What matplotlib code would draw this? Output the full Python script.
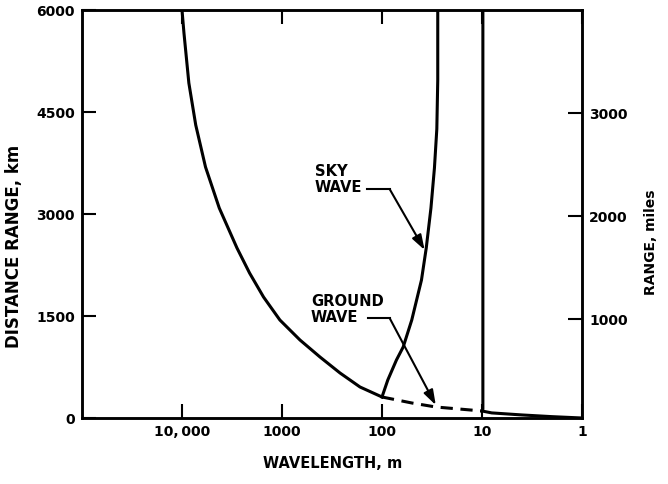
import matplotlib.pyplot as plt
from matplotlib.ticker import NullLocator

plt.rcParams['font.family'] = ['DejaVu Sans']
plt.rcParams['font.weight'] = 'bold'

# ground wave, solid part (wavelength m, range km)
gw_wl = [10000, 9560, 8540, 7290, 5820, 4240, 2820, 2110, 1530, 1050, 661, 417, 263, 166, 100]
gw_km = [6000, 5662, 4926, 4309, 3691, 3088, 2500, 2132, 1779, 1441, 1147, 897, 662, 456, 309]
# ground wave, dashed part
gd_wl = [100, 50, 29, 10]
gd_km = [309, 220, 162, 103]
# ground wave tail beyond 10 m
gt_wl = [10, 8, 4, 2, 1]
gt_km = [103, 75, 45, 20, 0]
# sky wave
sw_wl = [100, 87.5, 71.7, 61.4, 50.4, 40.3, 36.1, 32.4, 29.9, 28.3, 27.7, 27.7]
sw_km = [309, 559, 853, 1044, 1441, 2029, 2500, 3088, 3676, 4250, 4971, 6000]
# near-vertical line at 10 m
vl_wl = [9.8, 9.8, 10]
vl_km = [6000, 130, 103]

x_ticks = [10000, 1000, 100, 10, 1]
x_labels = ['10,\u2009000', '1000', '100', '10', '1']
km_ticks = [0, 1500, 3000, 4500, 6000]
mi_ticks = [1000, 2000, 3000]

fig = plt.figure(figsize=(6.68, 4.84), dpi=100)
ax = fig.add_axes([82 / 668, 66 / 484, 500 / 668, 408 / 484])

lw = 2.2
ax.plot(gw_wl, gw_km, 'k-', lw=lw)
ax.plot(gd_wl, gd_km, 'k', lw=lw, dashes=(4, 2.5))
ax.plot(gt_wl, gt_km, 'k-', lw=lw)
ax.plot(sw_wl, sw_km, 'k-', lw=lw)
ax.plot(vl_wl, vl_km, 'k-', lw=lw)

ax.set_xscale('log')
ax.set_xlim(1e5, 1)
ax.set_ylim(0, 6000)
ax.set_xticks(x_ticks)
ax.set_xticklabels(x_labels)
ax.xaxis.set_minor_locator(NullLocator())
ax.set_yticks(km_ticks)
ax.set_yticklabels([str(v) for v in km_ticks])
ax.tick_params(direction='in', length=10, width=1.5, top=True, labelsize=10, pad=5)

ax2 = ax.twinx()
ax2.set_ylim(40, 4000)
ax2.set_yticks(mi_ticks)
ax2.set_yticklabels([str(v) for v in mi_ticks])
ax2.tick_params(direction='in', length=10, width=1.5, labelsize=10, pad=5)

for a in (ax, ax2):
    for s in a.spines.values():
        s.set_linewidth(1.8)

fig.text(14 / 668, 1 - 246 / 484, 'DISTANCE RANGE, km', rotation=90, ha='center', va='center', fontsize=12)
fig.text(651 / 668, 1 - 242 / 484, 'RANGE, miles', rotation=90, ha='center', va='center', fontsize=10)
fig.text(333 / 668, 1 - 463 / 484, 'WAVELENGTH, m', ha='center', va='center', fontsize=10.5)

# annotations
arw = dict(arrowstyle='-|>,head_length=0.9,head_width=0.3', color='k', lw=1.5, shrinkA=0, shrinkB=0)
ax.text(468, 3279, 'SKY\nWAVE', ha='left', va='bottom', linespacing=1.05, fontsize=10.6)
ax.plot([141, 84], [3368, 3368], 'k-', lw=1.5)
ax.annotate('', xy=(37.5, 2471), xytext=(84, 3368), arrowprops=arw)

ax.text(513, 1368, 'GROUND\nWAVE', ha='left', va='bottom', linespacing=1.05, fontsize=10.6)
ax.plot([138, 84], [1471, 1471], 'k-', lw=1.5)
ax.annotate('', xy=(29, 190), xytext=(84, 1471), arrowprops=arw)

fig.savefig('out.png', dpi=100)
